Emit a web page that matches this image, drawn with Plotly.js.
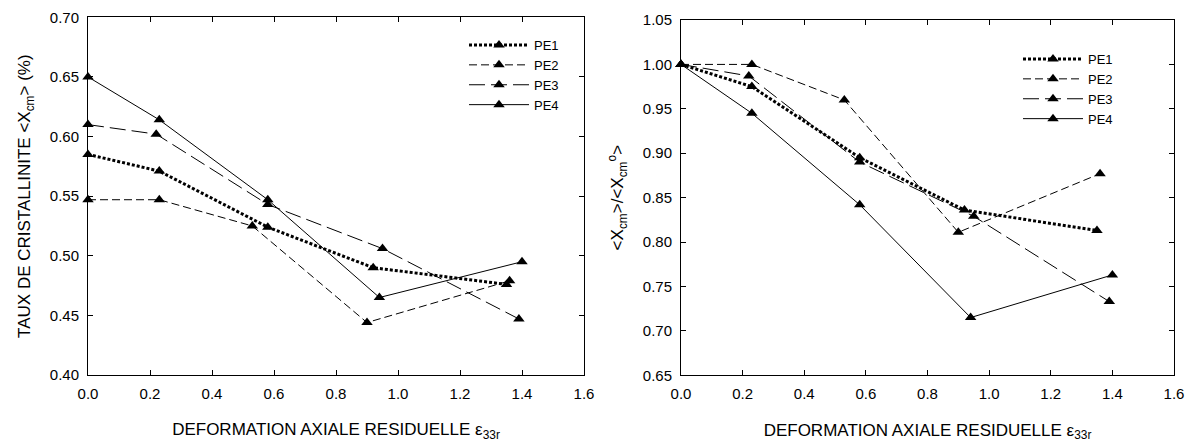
<!DOCTYPE html>
<html>
<head>
<meta charset="utf-8">
<script src="https://cdn.plot.ly/plotly-3.0.1.min.js"></script>
<style>html,body{margin:0;padding:0;background:#fff;}#chart{width:1194px;height:448px;}</style>
</head>
<body>
<div id="chart"></div>
<script>
// Data
const seriesNames = ["PE1", "PE2", "PE3", "PE4"];
const pe1X = [0, 0.23, 0.58, 0.92, 1.35];
const pe1Taux = [0.585, 0.571, 0.524, 0.490, 0.476];
const pe1Ratio = [1.0, 0.975, 0.895, 0.836, 0.813];
const pe2X = [0, 0.23, 0.53, 0.90, 1.36];
const pe2Taux = [0.547, 0.547, 0.525, 0.444, 0.479];
const pe2Ratio = [1.0, 1.0, 0.960, 0.811, 0.877];
const pe3X = [0, 0.22, 0.58, 0.95, 1.39];
const pe3Taux = [0.610, 0.602, 0.543, 0.506, 0.447];
const pe3Ratio = [1.0, 0.987, 0.890, 0.829, 0.733];
const pe4X = [0, 0.23, 0.58, 0.94, 1.40];
const pe4Taux = [0.650, 0.614, 0.547, 0.465, 0.495];
const pe4Ratio = [1.0, 0.945, 0.842, 0.715, 0.763];

const xs = [pe1X, pe2X, pe3X, pe4X];
const tauxVals = [pe1Taux, pe2Taux, pe3Taux, pe4Taux];
const ratioVals = [pe1Ratio, pe2Ratio, pe3Ratio, pe4Ratio];

const lineStyles = [
  {color: "#000", width: 3, dash: "3px,2px"},
  {color: "#000", width: 1, dash: "8px,4px"},
  {color: "#000", width: 1, dash: "16px,6px"},
  {color: "#000", width: 1, dash: "solid"}
];
const marker = {symbol: "triangle-up", size: 10, color: "#000"};

const traces = [];
for (let i = 0; i < 4; i++) {
  traces.push({x: xs[i], y: tauxVals[i], name: seriesNames[i], type: "scatter", mode: "lines+markers",
    line: lineStyles[i], marker: marker, xaxis: "x", yaxis: "y", legend: "legend", cliponaxis: false});
}
for (let i = 0; i < 4; i++) {
  traces.push({x: xs[i], y: ratioVals[i], name: seriesNames[i], type: "scatter", mode: "lines+markers",
    line: lineStyles[i], marker: marker, xaxis: "x2", yaxis: "y2", legend: "legend2", cliponaxis: false});
}

const FONT = "Liberation Sans, Arial, sans-serif";
const xTitle = "DEFORMATION AXIALE RESIDUELLE ε<sub>33r</sub>";
function xAxis(domain, anchor) {
  return {domain: domain, anchor: anchor, range: [0, 1.6], dtick: 0.2, tick0: 0, tickformat: ".1f",
    showgrid: false, zeroline: false, showline: true, linecolor: "#000", linewidth: 1, mirror: "ticks",
    ticks: "inside", ticklen: 5, tickcolor: "#000", ticklabelstandoff: 5,
    tickfont: {family: FONT, size: 15, color: "#000"},
    title: {text: xTitle, font: {family: FONT, size: 17, color: "#000"}, standoff: 22}};
}
function yAxis(domain, anchor, range, title, standoff) {
  return {domain: domain, anchor: anchor, range: range, dtick: 0.05, tickformat: ".2f",
    showgrid: false, zeroline: false, showline: true, linecolor: "#000", linewidth: 1, mirror: "ticks",
    ticks: "inside", ticklen: 5, tickcolor: "#000", ticklabelstandoff: 5,
    tickfont: {family: FONT, size: 15, color: "#000"},
    title: {text: title, font: {family: FONT, size: 17, color: "#000"}, standoff: standoff}};
}

const layout = {
  width: 1194, height: 448,
  margin: {l: 0, r: 0, t: 0, b: 0},
  paper_bgcolor: "#fff", plot_bgcolor: "#fff",
  font: {family: FONT, size: 14, color: "#000"},
  xaxis: xAxis([88/1194, 584/1194], "y"),
  yaxis: yAxis([73/448, 430.7/448], "x", [0.40, 0.70], "TAUX DE CRISTALLINITE &lt;X<sub>cm</sub>&gt; (%)", 14),
  xaxis2: xAxis([681/1194, 1174/1194], "y2"),
  yaxis2: yAxis([72.7/448, 428/448], "x2", [0.65, 1.05], "&lt;X<sub>cm</sub>&gt;/&lt;X<sub>cm</sub><sup>o</sup>&gt;", 14),
  legend: {x: 464/1194, y: (448 - 30)/448, xanchor: "left", yanchor: "top", bgcolor: "rgba(0,0,0,0)",
    borderwidth: 0, itemwidth: 60, font: {family: FONT, size: 13, color: "#000"}, tracegroupgap: 0},
  legend2: {x: 1018/1194, y: (448 - 44)/448, xanchor: "left", yanchor: "top", bgcolor: "rgba(0,0,0,0)",
    borderwidth: 0, itemwidth: 60, font: {family: FONT, size: 13, color: "#000"}, tracegroupgap: 0},
  showlegend: true
};

Plotly.newPlot("chart", traces, layout, {staticPlot: true, displayModeBar: false});
</script>
</body>
</html>
